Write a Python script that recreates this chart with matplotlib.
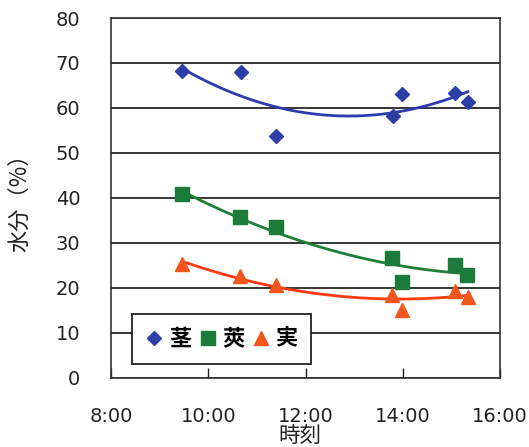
import numpy as np
import matplotlib
matplotlib.use("Agg")
import matplotlib.pyplot as plt
from matplotlib.ticker import FixedLocator

plt.rcParams['font.family'] = ['DejaVu Sans', 'Noto Sans CJK JP']

# sampling times (hours) and moisture content (%)
t_stem = [9.47, 10.67, 11.39, 13.79, 13.99, 15.08, 15.34]
stem = [68.2, 67.9, 53.7, 58.3, 63.0, 63.4, 61.4]

t_pod = [9.47, 10.65, 11.39, 13.77, 13.99, 15.08, 15.33]
pod = [40.8, 35.8, 33.4, 26.5, 21.3, 25.0, 22.8]

t_seed = [9.47, 10.66, 11.39, 13.78, 13.99, 15.08, 15.34]
seed = [25.3, 22.6, 20.6, 18.4, 15.0, 19.3, 18.0]

names = ['茎', '莢', '実']
colors = ['#2B3FA6', '#1B7B3B', '#F2561C']
line_colors = ['#2A3CB0', '#1E7E3A', '#FF3A10']
markers = ['D', 's', '^']
msizes = [7.2, 9.5, 10]

x_ticks = [8, 10, 12, 14, 16]
x_labels = ['8:00', '10:00', '12:00', '14:00', '16:00']
y_ticks = [0, 10, 20, 30, 40, 50, 60, 70, 80]

fig = plt.figure(figsize=(5.29, 4.47), dpi=100)
ax = fig.add_axes([111 / 529, 1 - 377.5 / 447, 389 / 529, 359.5 / 447])

series = [(t_stem, stem), (t_pod, pod), (t_seed, seed)]
handles = []
for (t, v), name, c, lc, m, ms in zip(series, names, colors, line_colors, markers, msizes):
    t = np.asarray(t)
    v = np.asarray(v)
    # second-order polynomial trend line over the sampled span
    coef = np.polyfit(t, v, 2)
    tt = np.linspace(t.min() + 0.08, t.max(), 200)
    ax.plot(tt, np.polyval(coef, tt), color=lc, lw=2.0, zorder=2)
    h, = ax.plot(t, v, linestyle='none', marker=m, ms=ms, color=c,
                 markeredgecolor=c, label=name, zorder=3)
    handles.append(h)

ax.set_xlim(8, 16)
ax.set_ylim(0, 80)
ax.xaxis.set_major_locator(FixedLocator(x_ticks))
ax.set_xticklabels(x_labels)
ax.set_yticks(y_ticks)
ax.yaxis.grid(True, color='black', lw=1.1)
ax.set_axisbelow(True)
for s in ax.spines.values():
    s.set_color('#333333')
    s.set_linewidth(1.2)

ax.tick_params(axis='x', direction='in', length=7, width=1, pad=21,
               labelsize=14, colors='#222222')
ax.tick_params(axis='y', length=0, pad=22, labelsize=14, colors='#222222')

ax.set_xlabel('時刻', fontsize=15.5, family=['Noto Sans CJK JP'], color='#222222')
ax.xaxis.set_label_coords(0.486, -0.133)
ax.set_ylabel('水分（%）', fontsize=16, family=['Noto Sans CJK JP'], color='#222222')
ax.yaxis.set_label_coords(-0.205, 0.5)

leg = ax.legend(handles=handles, loc='lower left', bbox_to_anchor=(0.053, 0.037),
                borderaxespad=0, ncol=3, frameon=True, fancybox=False, framealpha=1,
                edgecolor='#222222', handlelength=0.8, handletextpad=0.25,
                columnspacing=0.35, borderpad=0.62, markerscale=1.05,
                prop={'family': 'Noto Sans CJK JP', 'weight': 'bold', 'size': 16})
leg.get_frame().set_linewidth(1.3)

fig.savefig('out.png', dpi=100)
